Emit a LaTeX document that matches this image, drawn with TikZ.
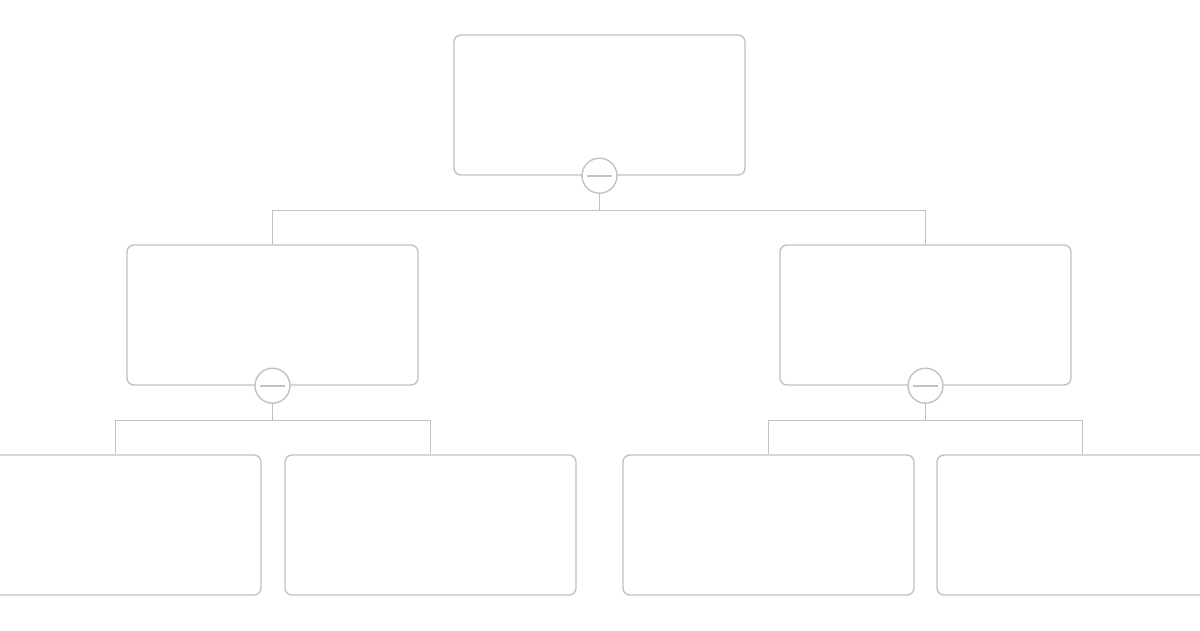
\documentclass[tikz,border=0pt]{standalone}
\usepackage{tikz}
\usetikzlibrary{positioning}
\definecolor{linegray}{HTML}{C2C2C2}

\begin{document}
\begin{tikzpicture}[x=1pt, y=-1pt, line width=1.4pt,
  every node/.style = {draw=linegray, align=center},
  card/.style = {rectangle, rounded corners=7pt, minimum width=291pt, minimum height=140pt, inner sep=0pt},
  toggle/.style = {circle, fill=white, minimum size=35pt, inner sep=0pt,
    path picture={\draw[linegray, line width=1.6pt]
      ([xshift=-12.5pt]path picture bounding box.center) -- ([xshift=12.5pt]path picture bounding box.center);}},
  link/.style = {draw=linegray}]
  \useasboundingbox (0,0) rectangle (1200,630);
  \node[card] (root) at (599.5,105) {};
  \node[card] (left) at (272.5,315) {};
  \node[card] (right) at (925.5,315) {};
  \node[card] (ll) at (115.5,525) {};
  \node[card] (lr) at (430.5,525) {};
  \node[card] (rl) at (768.5,525) {};
  \node[card] (rr) at (1082.5,525) {};
  % connectors
  \draw[link] (root.south) -- ++(0,35) -| (left.north);
  \draw[link] (root.south) -- ++(0,35) -| (right.north);
  \draw[link] (left.south) -- ++(0,35) -| (ll.north);
  \draw[link] (left.south) -- ++(0,35) -| (lr.north);
  \draw[link] (right.south) -- ++(0,35) -| (rl.north);
  \draw[link] (right.south) -- ++(0,35) -| (rr.north);
  % collapse toggles
  \node[toggle] (rootc) at (root.south) {};
  \node[toggle] (leftc) at (left.south) {};
  \node[toggle] (rightc) at (right.south) {};
\end{tikzpicture}
\end{document}
